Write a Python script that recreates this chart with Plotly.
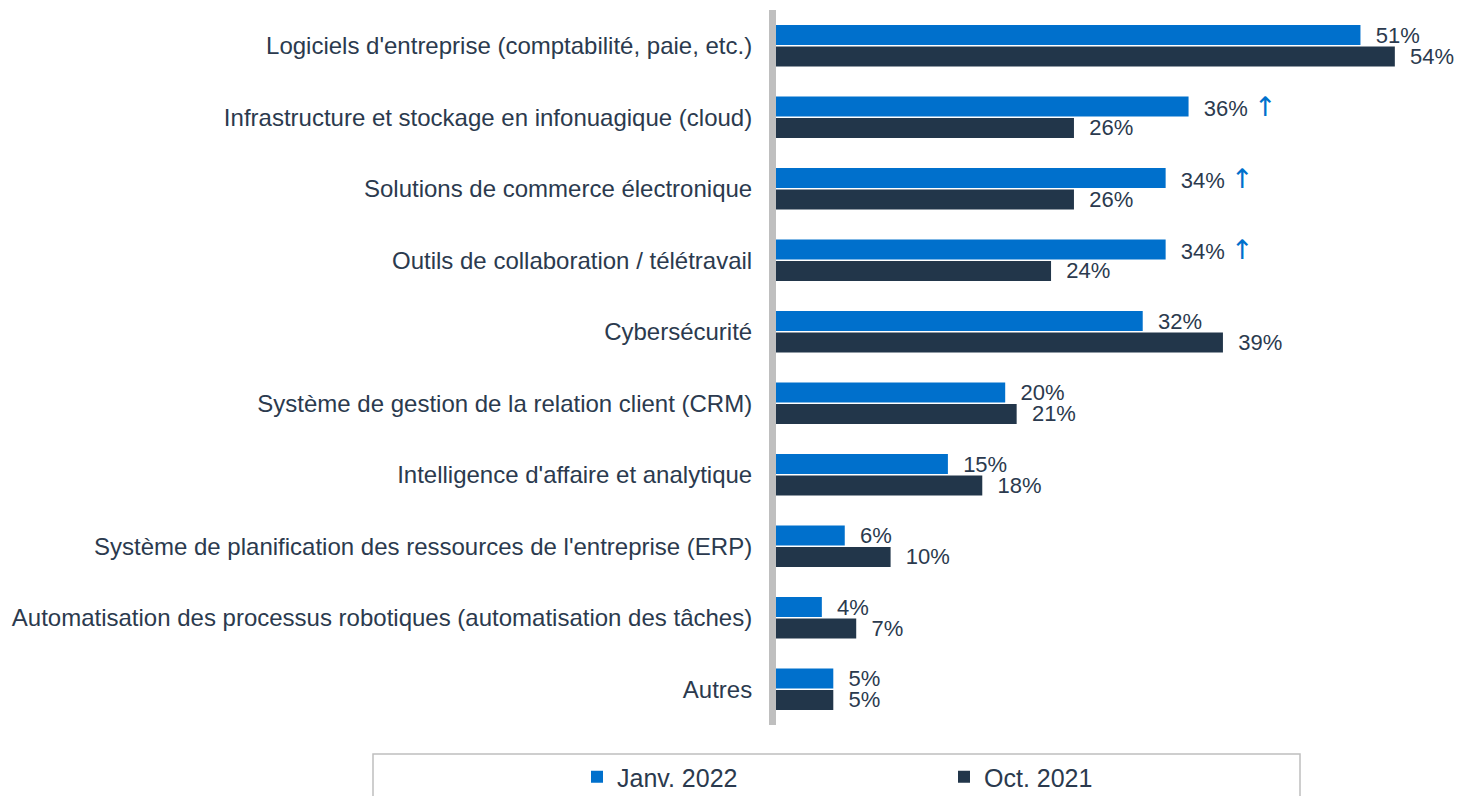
import plotly.graph_objects as go

categories = [
    "Logiciels d'entreprise (comptabilité, paie, etc.)",
    "Infrastructure et stockage en infonuagique (cloud)",
    "Solutions de commerce électronique",
    "Outils de collaboration / télétravail",
    "Cybersécurité",
    "Système de gestion de la relation client (CRM)",
    "Intelligence d'affaire et analytique",
    "Système de planification des ressources de l'entreprise (ERP)",
    "Automatisation des processus robotiques (automatisation des tâches)",
    "Autres",
]
janv_2022 = [51, 36, 34, 34, 32, 20, 15, 6, 4, 5]
oct_2021 = [54, 26, 26, 24, 39, 21, 18, 10, 7, 5]
significant_up = [False, True, True, True, False, False, False, False, False, False]

BLUE = "#0070CC"
NAVY = "#22364A"
TEXT = "#2B3A4E"
GRAY = "#BFBFBF"

# page has an 8px body margin: figure is offset by 8px right/down
OFF = 8
W, H = 1462 - 2 * OFF, 796 - OFF
L, T, B = 776 - OFF, 10 - OFF, 796 - 725
PW = 676
R = W - L - PW
PH = H - T - B
PX_PER_PCT = 11.46


def lbl(v, up=False):
    s = "\u00a0\u00a0" + f"{v}%"
    if up:
        s += (f" <span style='color:{BLUE};font-family:DejaVu Sans;"
              f"font-size:27px'>↑</span>")
    return s


fig = go.Figure()
fig.add_trace(go.Bar(
    name="Janv. 2022", y=categories, x=janv_2022, orientation="h",
    marker=dict(color=BLUE, line=dict(width=0)),
    text=[lbl(v, u) for v, u in zip(janv_2022, significant_up)],
    textposition="outside", constraintext="none",
    textfont=dict(size=22, color=TEXT),
    cliponaxis=False, hoverinfo="x+y", legend="legend",
))
fig.add_trace(go.Bar(
    name="Oct. 2021", y=categories, x=oct_2021, orientation="h",
    marker=dict(color=NAVY, line=dict(width=0)),
    text=[lbl(v) for v in oct_2021],
    textposition="outside", constraintext="none",
    textfont=dict(size=22, color=TEXT),
    cliponaxis=False, hoverinfo="x+y", legend="legend2",
))


def px_x(px):
    return (px - OFF - L) / PW


def px_y(py):
    return (H - B - (py - OFF)) / PH


fig.add_shape(type="rect", xref="paper", yref="paper",
              x0=px_x(373), x1=px_x(1300), y0=px_y(754), y1=px_y(815),
              line=dict(color=GRAY, width=1.5), fillcolor="rgba(0,0,0,0)", layer="below")

leg_common = dict(orientation="h", xanchor="left", yanchor="middle",
                  font=dict(size=25, color=TEXT), itemwidth=30,
                  bgcolor="rgba(0,0,0,0)", borderwidth=0)

fig.update_layout(
    width=W, height=H,
    margin=dict(l=L, r=R, t=T, b=B, autoexpand=False),
    paper_bgcolor="white", plot_bgcolor="white",
    font=dict(family="Liberation Sans, Arial, sans-serif", size=24, color=TEXT),
    barmode="group", bargap=0.40, bargroupgap=0.07,
    xaxis=dict(range=[0, PW / PX_PER_PCT], visible=False, fixedrange=True),
    yaxis=dict(autorange="reversed", showline=True, linecolor=GRAY, linewidth=7,
               showgrid=False, ticks="", ticklabelstandoff=12,
               tickfont=dict(size=24, color=TEXT), fixedrange=True),
    legend=dict(x=px_x(577), y=px_y(777), **leg_common),
    legend2=dict(x=px_x(944), y=px_y(777), **leg_common),
    showlegend=True,
)

fig.write_html("out.html")
